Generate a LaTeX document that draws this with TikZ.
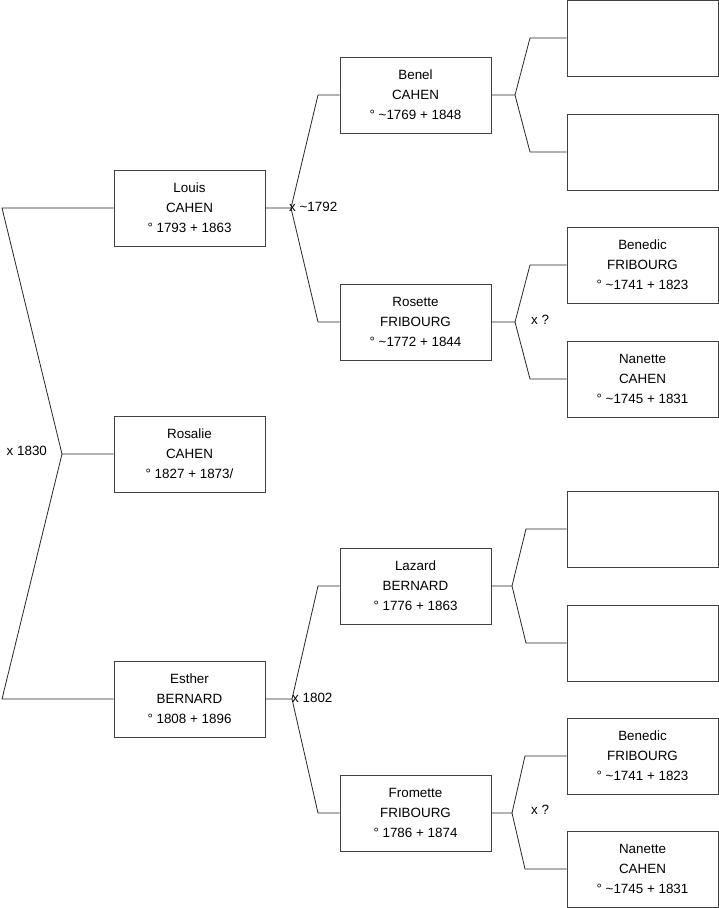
\documentclass[tikz,border=0pt]{standalone}
\usepackage{fontspec}
\setmainfont{Liberation Sans}
\begin{document}
\begin{tikzpicture}[x=1pt,y=-1pt,
  person/.style={draw=black!75,line width=0.9pt,rectangle,minimum width=151pt,minimum height=76pt,
    inner sep=0pt,align=center,font=\fontsize{13.4}{20}\selectfont},
  link/.style={draw=black!85,line width=0.8pt},
  lbl/.style={anchor=west,inner sep=0pt,font=\fontsize{13.4}{15}\selectfont}]
\useasboundingbox (0,0) rectangle (719,908);
% generation 1
\node[person] (louis) at (189.5,208) {Louis\\CAHEN\\° 1793 + 1863};
\node[person] (rosalie) at (189.5,454) {Rosalie\\CAHEN\\° 1827 + 1873/};
\node[person] (esther) at (189.5,699) {Esther\\BERNARD\\° 1808 + 1896};
% generation 2
\node[person] (benel) at (415.5,95) {Benel\\CAHEN\\° \textasciitilde1769 + 1848};
\node[person] (rosette) at (415.5,322) {Rosette\\FRIBOURG\\° \textasciitilde1772 + 1844};
\node[person] (lazard) at (415.5,586) {Lazard\\BERNARD\\° 1776 + 1863};
\node[person] (fromette) at (415.5,813) {Fromette\\FRIBOURG\\° 1786 + 1874};
% generation 3
\node[person] (e1) at (642.5,38) {};
\node[person] (e2) at (642.5,152) {};
\node[person] (ben1) at (642.5,265) {Benedic\\FRIBOURG\\° \textasciitilde1741 + 1823};
\node[person] (nan1) at (642.5,379) {Nanette\\CAHEN\\° \textasciitilde1745 + 1831};
\node[person] (e3) at (642.5,529) {};
\node[person] (e4) at (642.5,643) {};
\node[person] (ben2) at (642.5,756) {Benedic\\FRIBOURG\\° \textasciitilde1741 + 1823};
\node[person] (nan2) at (642.5,869) {Nanette\\CAHEN\\° \textasciitilde1745 + 1831};
% junction coordinates
\coordinate (a1) at (2,208);
\coordinate (j0) at (62,454);
\coordinate (a2) at (2,699);
\coordinate (j1) at (291,208);
\coordinate (b1) at (318,95);
\coordinate (b2) at (318,322);
\coordinate (j2) at (292,699);
\coordinate (b3) at (318,586);
\coordinate (b4) at (318,813);
\coordinate (j3) at (515,95);
\coordinate (c1) at (530,38);
\coordinate (c2) at (530,152);
\coordinate (j4) at (515,322);
\coordinate (c3) at (530,265);
\coordinate (c4) at (530,379);
\coordinate (j5) at (512,586);
\coordinate (c5) at (526,529);
\coordinate (c6) at (526,643);
\coordinate (j6) at (512,813);
\coordinate (c7) at (525,756);
\coordinate (c8) at (525,869);
% connectors
\draw[link] (louis.west) -- (a1) -- (j0) -- (rosalie.west);
\draw[link] (j0) -- (a2) -- (esther.west);
\draw[link] (louis.east) -- (j1) -- (b1) -- (benel.west);
\draw[link] (j1) -- (b2) -- (rosette.west);
\draw[link] (esther.east) -- (j2) -- (b3) -- (lazard.west);
\draw[link] (j2) -- (b4) -- (fromette.west);
\draw[link] (benel.east) -- (j3) -- (c1) -- (e1.west);
\draw[link] (j3) -- (c2) -- (e2.west);
\draw[link] (rosette.east) -- (j4) -- (c3) -- (ben1.west);
\draw[link] (j4) -- (c4) -- (nan1.west);
\draw[link] (lazard.east) -- (j5) -- (c5) -- (e3.west);
\draw[link] (j5) -- (c6) -- (e4.west);
\draw[link] (fromette.east) -- (j6) -- (c7) -- (ben2.west);
\draw[link] (j6) -- (c8) -- (nan2.west);
% marriage labels
\node[lbl] (m0) at (6.5,451) {x 1830};
\node[lbl] (m1) at (289,207) {x \textasciitilde1792};
\node[lbl] (m2) at (292,698) {x 1802};
\node[lbl] (m3) at (531,320) {x ?};
\node[lbl] (m4) at (531,810) {x ?};
\end{tikzpicture}
\end{document}
